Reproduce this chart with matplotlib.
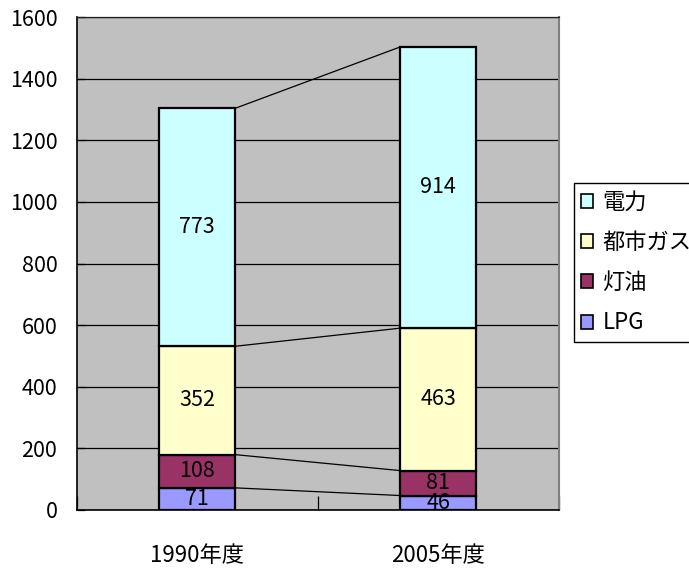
import matplotlib
matplotlib.use("Agg")
import matplotlib.pyplot as plt
from matplotlib.patches import Patch
import numpy as np

plt.rcParams['font.family'] = ['Noto Sans CJK JP', 'DejaVu Sans']

categories = ['1990年度', '2005年度']
series_names = ['LPG', '灯油', '都市ガス', '電力']
lpg = [71, 46]
kerosene = [108, 81]
city_gas = [352, 463]
electricity = [773, 914]
yticks = [0, 200, 400, 600, 800, 1000, 1200, 1400, 1600]

colors = ['#9999FF', '#993366', '#FFFFCC', '#CCFFFF']
values = [lpg, kerosene, city_gas, electricity]

fig = plt.figure(figsize=(6.89, 5.71), dpi=100)
ax = fig.add_axes([76.7/689, 1 - 509.7/571, (558.7 - 76.7)/689, (509.7 - 17.3)/571])
ax.set_facecolor('#C0C0C0')

x = np.arange(len(categories))
w = 0.313
bottom = np.zeros(len(categories))
tops = []
for vals, col, name in zip(values, colors, series_names):
    v = np.array(vals, dtype=float)
    ax.bar(x, v, w, bottom=bottom, color=col, edgecolor='black', linewidth=1.6, zorder=3, label=name)
    for xi, vi, bi in zip(x, v, bottom):
        ax.text(xi, bi + vi / 2, f"{int(vi)}", ha='center', va='center', fontsize=15.5, color='black', zorder=5)
    bottom = bottom + v
    tops.append(bottom.copy())

# series lines
for t in tops:
    ax.plot([x[0] + w / 2, x[1] - w / 2], [t[0], t[1]], color='black', linewidth=0.9, zorder=2)

ax.set_xlim(-0.5, 1.5)
ax.set_ylim(0, 1600)
ax.set_yticks(yticks)
ax.set_yticklabels([str(t) for t in yticks], fontsize=15.5)
ax.yaxis.grid(True, color='black', linewidth=0.9, zorder=1)
ax.set_axisbelow(True)

ax.set_xticks([-0.5, 0.5, 1.5])
ax.set_xticklabels([])
ax.set_xticks(x, minor=True)
ax.set_xticklabels(categories, minor=True, fontsize=16)
ax.tick_params(axis='x', which='major', direction='in', length=10, width=0.9, color='black')
ax.tick_params(axis='x', which='minor', length=0, pad=25)
ax.tick_params(axis='y', direction='in', length=6, width=0.9, pad=14)

for s in ['left', 'bottom']:
    ax.spines[s].set_color('black')
    ax.spines[s].set_linewidth(1.2)
ax.spines['top'].set_color('#202020')
ax.spines['top'].set_linewidth(0.9)
ax.spines['right'].set_color('#808080')
ax.spines['right'].set_linewidth(1.5)

handles = [Patch(facecolor=c, edgecolor='black', linewidth=1.2) for c in colors][::-1]
labels = series_names[::-1]
leg = fig.legend(handles, labels, loc='upper left', bbox_to_anchor=(574.3/689, 1 - 183.3/571),
                 frameon=True, fancybox=False, edgecolor='black', framealpha=1,
                 fontsize=16, handlelength=0.5, handleheight=0.6, handletextpad=0.45,
                 labelspacing=0.78, borderpad=0.32, borderaxespad=0)
leg.get_frame().set_linewidth(1.0)

fig.savefig('out.png', dpi=100)
